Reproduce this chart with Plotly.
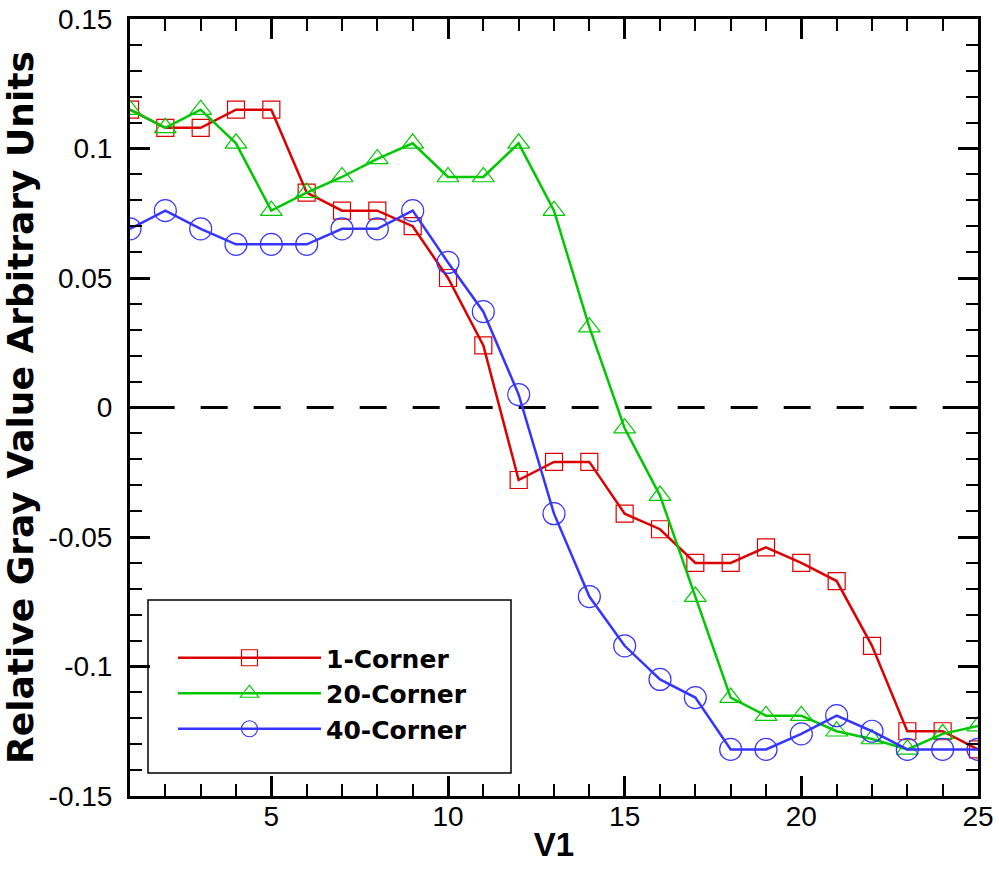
import plotly.graph_objects as go

# V1 positions
v1 = list(range(1, 26))

# Relative gray values (arbitrary units) per corner setting
corner_1 = [0.115, 0.108, 0.108, 0.115, 0.115, 0.083, 0.076, 0.076, 0.070, 0.050,
            0.024, -0.028, -0.021, -0.021, -0.041, -0.047, -0.060, -0.060, -0.054, -0.060,
            -0.067, -0.092, -0.125, -0.125, -0.132]
corner_20 = [0.115, 0.108, 0.115, 0.102, 0.076, 0.083, 0.089, 0.096, 0.102, 0.089,
             0.089, 0.102, 0.076, 0.031, -0.008, -0.034, -0.073, -0.112, -0.119, -0.119,
             -0.125, -0.128, -0.132, -0.126, -0.123]
corner_40 = [0.069, 0.076, 0.069, 0.063, 0.063, 0.063, 0.069, 0.069, 0.076, 0.056,
             0.037, 0.005, -0.041, -0.073, -0.092, -0.105, -0.112, -0.132, -0.132, -0.126,
             -0.119, -0.125, -0.132, -0.132, -0.132]

series_names = ["1-Corner", "20-Corner", "40-Corner"]
y_ticks = [0.15, 0.1, 0.05, 0, -0.05, -0.1, -0.15]
y_tick_text = ["0.15", "0.1", "0.05", "0", "-0.05", "-0.1", "-0.15"]
x_ticks = [5, 10, 15, 20, 25]

FONT = "Liberation Sans, Arial, sans-serif"
WIDE_BOLD = "DejaVu Sans, Liberation Sans, sans-serif"

# plot-area geometry in pixels (figure is 999 x 869)
L, R, T, B = 130, 21, 19, 73
PW, PH = 999 - L - R, 869 - T - B

styles = [
    dict(color="#dd0000", symbol="square-open", size=17),
    dict(color="#00c800", symbol="triangle-up-open", size=19),
    dict(color="#3535ff", symbol="circle-open", size=22),
]

fig = go.Figure()
for name, ys, st in zip(series_names, [corner_1, corner_20, corner_40], styles):
    fig.add_trace(go.Scatter(
        x=v1, y=ys, name=name, mode="lines+markers",
        line=dict(color=st["color"], width=2.5),
        marker=dict(symbol=st["symbol"], size=st["size"], color=st["color"],
                    line=dict(width=1.2, color=st["color"])),
    ))

# dashed zero reference line
fig.add_shape(type="line", xref="x", yref="y", x0=1.5, x1=25, y0=0, y1=0,
              line=dict(color="black", width=3, dash="27px,26px"), layer="below")

# legend frame
fig.add_shape(type="rect", xref="paper", yref="paper",
              x0=(148 - L) / PW, x1=(511 - L) / PW,
              y0=(T + PH - 773) / PH, y1=(T + PH - 600) / PH,
              line=dict(color="black", width=1.5), fillcolor="rgba(0,0,0,0)")

axis_common = dict(
    showline=True, linecolor="black", linewidth=3, mirror="ticks",
    ticks="inside", tickcolor="black", tickwidth=3, ticklen=20,
    showgrid=False, zeroline=False, automargin=False,
    tickfont=dict(family=FONT, size=28, color="black"),
)

fig.update_xaxes(
    range=[1, 25], tickvals=x_ticks, ticklabelstandoff=-7,
    minor=dict(ticks="inside", dtick=1, tick0=0, ticklen=12, tickwidth=2, tickcolor="black"),
    title=dict(text="<b>V1</b>", font=dict(family=FONT, size=33, color="black"), standoff=3),
    **axis_common,
)
fig.update_yaxes(
    range=[-0.15, 0.15], tickvals=y_ticks, ticktext=y_tick_text, ticklabelstandoff=9,
    minor=dict(ticks="inside", dtick=0.01, tick0=0, ticklen=12, tickwidth=2, tickcolor="black"),
    title=dict(text="<b>Relative Gray Value Arbitrary Units</b>",
               font=dict(family=WIDE_BOLD, size=36, color="black"), standoff=5),
    **axis_common,
)

fig.update_layout(
    width=999, height=869,
    margin=dict(l=L, r=R, t=T, b=B),
    paper_bgcolor="white", plot_bgcolor="white",
    showlegend=True,
    legend=dict(
        x=(173 - L) / PW, y=(T + PH - 635) / PH, xanchor="left", yanchor="top",
        bgcolor="rgba(0,0,0,0)", borderwidth=0,
        font=dict(family=WIDE_BOLD, size=25, color="black", weight="bold"),
        itemwidth=143, tracegroupgap=0,
    ),
)

fig.write_html("out.html")
